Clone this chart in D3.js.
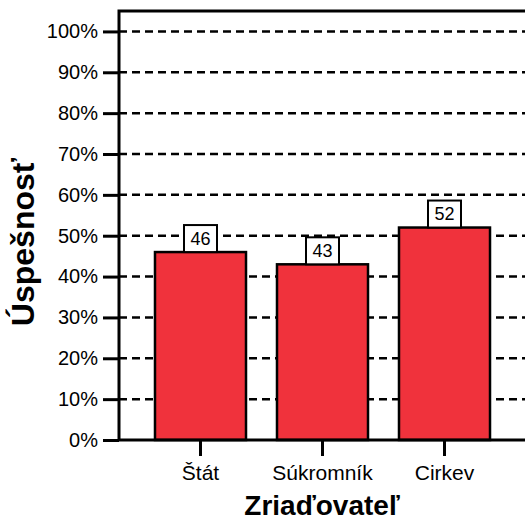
<!DOCTYPE html>
<html lang="sk">
<head>
<meta charset="utf-8">
<title>Úspešnosť</title>
<style>
  html, body { margin: 0; padding: 0; background: #fff; }
  svg { display: block; font-family: "Liberation Sans", Arial, sans-serif; }
</style>
</head>
<body>
<script src="https://cdn.jsdelivr.net/npm/d3@7/dist/d3.min.js"></script>
<script>
const categories = ['Štát', 'Súkromník', 'Cirkev']
const values = [46, 43, 52]
const yTicks = [0, 10, 20, 30, 40, 50, 60, 70, 80, 90, 100]

const w = 525
const h = 517
const plotLeft = 119
const plotRight = 526
const plotTop = 11
const plotBottom = 440
const barColor = '#f0323c'

const svg = d3.select('body').append('svg')
  .attr('width', w)
  .attr('height', h)

const x = d3.scaleBand()
  .domain(categories)
  .range([plotLeft, plotRight])
  .paddingInner(0.254)
  .paddingOuter(0.295)

const y = d3.scaleLinear()
  .domain([0, 105])
  .range([plotBottom, plotTop])

// dashed grid
svg.append('g').selectAll('line')
  .data(yTicks.filter(d => d > 0))
  .join('line')
  .attr('x1', plotLeft)
  .attr('x2', w)
  .attr('y1', d => y(d))
  .attr('y2', d => y(d))
  .attr('stroke', '#000')
  .attr('stroke-width', 2.5)
  .attr('stroke-dasharray', '8,5')

// bars
svg.append('g').selectAll('rect')
  .data(values)
  .join('rect')
  .attr('x', (d, i) => x(categories[i]))
  .attr('y', d => y(d))
  .attr('width', x.bandwidth())
  .attr('height', d => plotBottom - y(d))
  .attr('fill', barColor)
  .attr('stroke', '#000')
  .attr('stroke-width', 2.5)

// value labels
const labels = svg.append('g').selectAll('g')
  .data(values)
  .join('g')
  .attr('transform', (d, i) => `translate(${x(categories[i]) + x.bandwidth() / 2}, ${y(d)})`)

labels.append('rect')
  .attr('x', -16.5)
  .attr('y', -27)
  .attr('width', 33)
  .attr('height', 27)
  .attr('fill', '#fff')
  .attr('stroke', '#000')
  .attr('stroke-width', 2)

labels.append('text')
  .attr('y', -13.5)
  .attr('dy', '0.35em')
  .attr('text-anchor', 'middle')
  .attr('font-size', 18)
  .text(d => d)

// y axis
const yAxis = svg.append('g')
  .attr('transform', `translate(${plotLeft},0)`)
  .call(d3.axisLeft(y).tickValues(yTicks).tickFormat(d => d + '%').tickSize(16).tickPadding(5))
yAxis.select('.domain').remove()
yAxis.selectAll('line').attr('stroke-width', 3)
yAxis.selectAll('text').attr('font-size', 20).attr('fill', '#000').style('font-family', 'inherit')

// x axis
const xAxis = svg.append('g')
  .attr('transform', `translate(0,${plotBottom})`)
  .call(d3.axisBottom(x).tickSize(16).tickPadding(9))
xAxis.select('.domain').remove()
xAxis.selectAll('line').attr('stroke-width', 3)
xAxis.selectAll('text').attr('font-size', 21).attr('fill', '#000').style('font-family', 'inherit')

// frame: left, top, bottom
svg.append('path')
  .attr('d', `M${w},${plotTop} H${plotLeft} V${plotBottom} H${w}`)
  .attr('fill', 'none')
  .attr('stroke', '#000')
  .attr('stroke-width', 3)

// axis titles
svg.append('text')
  .attr('x', (plotLeft + w) / 2)
  .attr('y', 515)
  .attr('text-anchor', 'middle')
  .attr('font-size', 28)
  .attr('font-weight', 'bold')
  .text('Zriaďovateľ')

svg.append('text')
  .attr('transform', 'translate(34, 242) rotate(-90)')
  .attr('text-anchor', 'middle')
  .attr('font-size', 32)
  .attr('font-weight', 'bold')
  .text('Úspešnosť')
</script>
</body>
</html>
